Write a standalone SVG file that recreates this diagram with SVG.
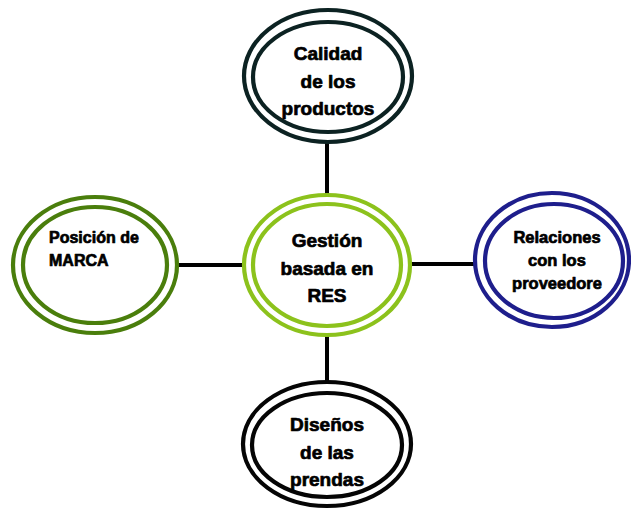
<svg xmlns="http://www.w3.org/2000/svg" width="631" height="512" viewBox="0 0 631 512">
  <style>
    .ring { fill: none; stroke-width: 4.2; }
    .lbl { font-family: "Liberation Sans", Arial, sans-serif; font-weight: bold; fill: #000000; stroke: #000000; stroke-width: 0.7; stroke-linejoin: round; }
    .c { text-anchor: middle; }
    .link { stroke: #000000; stroke-width: 4; fill: none; }
    .dark { stroke: #0c2222; }
    .lime { stroke: #8cc21c; }
    .olive { stroke: #4a7e0c; }
    .navy { stroke: #1e1e8c; }
    .black { stroke: #050505; }
  </style>
  <rect width="631" height="512" fill="#ffffff"/>

  <!-- connectors -->
  <g id="connectors">
    <line class="link" x1="327" y1="140" x2="327" y2="197"/>
    <line class="link" x1="177" y1="265" x2="245" y2="265"/>
    <line class="link" x1="409" y1="264" x2="476" y2="264"/>
    <line class="link" x1="327" y1="333" x2="327" y2="383"/>
  </g>

  <!-- top: Calidad de los productos -->
  <g id="node-calidad">
    <ellipse class="ring dark" cx="328" cy="76" rx="84" ry="66"/>
    <ellipse class="ring dark" cx="328" cy="77" rx="75" ry="55"/>
    <text class="lbl c" font-size="19" x="328" y="60">Calidad</text>
    <text class="lbl c" font-size="19" x="328" y="88">de los</text>
    <text class="lbl c" font-size="19" x="328" y="115">productos</text>
  </g>

  <!-- center: Gestión basada en RES -->
  <g id="node-gestion">
    <ellipse class="ring lime" cx="327" cy="265" rx="83" ry="70"/>
    <ellipse class="ring lime" cx="327" cy="265" rx="74" ry="61"/>
    <text class="lbl c" font-size="19" x="327" y="247">Gestión</text>
    <text class="lbl c" font-size="19" x="327" y="275">basada en</text>
    <text class="lbl c" font-size="19" x="327" y="302">RES</text>
  </g>

  <!-- left: Posición de MARCA -->
  <g id="node-posicion">
    <ellipse class="ring olive" cx="95" cy="265" rx="82" ry="68"/>
    <ellipse class="ring olive" cx="95" cy="265" rx="72" ry="58"/>
    <text class="lbl" font-size="16" x="49" y="243">Posición de</text>
    <text class="lbl" font-size="16" x="49" y="266">MARCA</text>
  </g>

  <!-- right: Relaciones con los proveedore -->
  <g id="node-relaciones">
    <ellipse class="ring navy" cx="552" cy="260" rx="77" ry="67"/>
    <ellipse class="ring navy" cx="554" cy="261" rx="69" ry="57"/>
    <text class="lbl c" font-size="16.5" x="557" y="243">Relaciones</text>
    <text class="lbl c" font-size="16.5" x="557" y="266">con los</text>
    <text class="lbl c" font-size="16.5" x="557" y="289">proveedore</text>
  </g>

  <!-- bottom: Diseños de las prendas -->
  <g id="node-disenos">
    <ellipse class="ring black" cx="327" cy="444" rx="84" ry="62"/>
    <ellipse class="ring black" cx="327" cy="445" rx="75" ry="52"/>
    <text class="lbl c" font-size="19" x="327" y="431">Diseños</text>
    <text class="lbl c" font-size="19" x="327" y="459">de las</text>
    <text class="lbl c" font-size="19" x="327" y="486">prendas</text>
  </g>
</svg>
